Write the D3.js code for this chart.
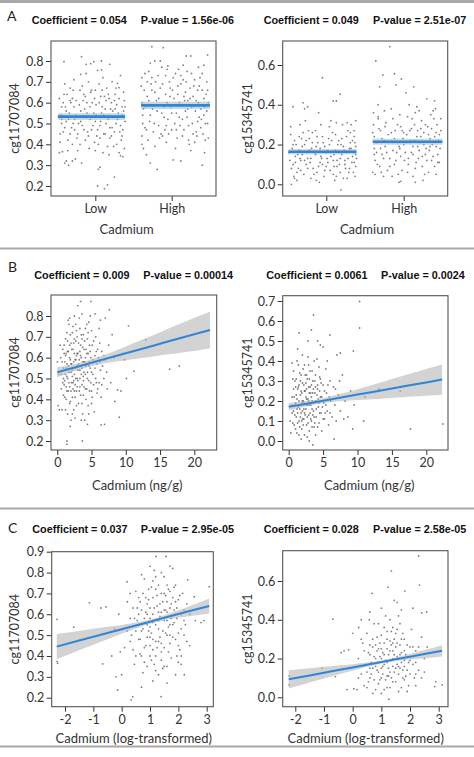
<!DOCTYPE html>
<html><head><meta charset="utf-8">
<script src="https://cdn.jsdelivr.net/npm/d3@7"></script>
<style>body{margin:0;background:#fff}svg{display:block}</style>
</head><body>
<svg id="c" width="474" height="757"></svg>
<script>
// ---------------- DATA ----------------
const categories = ["Low", "High"];
const panelLetters = ["A", "B", "C"];
const coefLabels = ["Coefficient = 0.054", "Coefficient = 0.049", "Coefficient = 0.009", "Coefficient = 0.0061", "Coefficient = 0.037", "Coefficient = 0.028"];
const pvalLabels = ["P-value = 1.56e-06", "P-value = 2.51e-07", "P-value = 0.00014", "P-value = 0.0024", "P-value = 2.95e-05", "P-value = 2.58e-05"];
const yLabels = ["cg11707084", "cg15345741", "cg11707084", "cg15345741", "cg11707084", "cg15345741"];
const xLabels = ["Cadmium", "Cadmium", "Cadmium (ng/g)", "Cadmium (ng/g)", "Cadmium (log-transformed)", "Cadmium (log-transformed)"];
const yTicksA1 = [0.2, 0.3, 0.4, 0.5, 0.6, 0.7, 0.8];
const yTicksA2 = [0.0, 0.2, 0.4, 0.6];
const yTicksB1 = [0.2, 0.3, 0.4, 0.5, 0.6, 0.7, 0.8];
const yTicksB2 = [0.0, 0.1, 0.2, 0.3, 0.4, 0.5, 0.6, 0.7];
const yTicksC1 = [0.2, 0.3, 0.4, 0.5, 0.6, 0.7, 0.8, 0.9];
const yTicksC2 = [0.0, 0.2, 0.4, 0.6];
const xTicksB = [0, 5, 10, 15, 20];
const xTicksC = [-2, -1, 0, 1, 2, 3];

// group means (Low, High), CI half-width, line extent in jitter units
const meanA1 = [0.533, 0.587];
const ciA1 = [0.016, 0.018];
const meanA2 = [0.164, 0.214];
const ciA2 = [0.013, 0.015];
const lineFrom = [-0.49, -0.40];
const lineTo = [0.39, 0.50];

// jittered points: [jitter offset from category, value]
const a1Low = [[-0.41,0.797],[-0.18,0.821],[-0.12,0.784],[-0.06,0.787],[-0.02,0.797],[0.08,0.80],[0.19,0.784],[0.03,0.755],[0.08,0.757],[-0.19,0.736],[0.29,0.693],[0.31,0.672],[0.25,0.243],[0.03,0.20],[0.12,0.187],[0.16,0.205],[-0.43,0.365],[-0.47,0.36],[-0.40,0.31],[-0.38,0.32],[-0.35,0.30],[-0.30,0.32],[0.06,0.29],[0.04,0.28],[0.36,0.34],[0.33,0.345],[-0.26,0.33],[-0.18,0.31],
[-0.42,0.60],[-0.38,0.56],[-0.35,0.52],[-0.40,0.48],[-0.33,0.45],[-0.36,0.42],[-0.41,0.64],[-0.30,0.62],[-0.28,0.58],[-0.25,0.54],[-0.22,0.50],[-0.27,0.47],[-0.24,0.43],[-0.30,0.40],[-0.20,0.66],[-0.16,0.61],[-0.14,0.57],[-0.12,0.53],[-0.17,0.49],[-0.10,0.46],[-0.13,0.42],[-0.08,0.38],[-0.06,0.65],[-0.04,0.60],[-0.02,0.55],[0.00,0.51],[-0.05,0.47],[0.02,0.44],[0.04,0.40],[0.05,0.69],[0.07,0.63],[0.09,0.58],[0.11,0.54],[0.06,0.49],[0.13,0.45],[0.10,0.36],[0.15,0.67],[0.18,0.62],[0.20,0.57],[0.17,0.52],[0.22,0.48],[0.19,0.43],[0.24,0.39],[0.26,0.64],[0.28,0.59],[0.30,0.55],[0.27,0.50],[0.32,0.46],[0.34,0.42],[0.38,0.61],[0.37,0.56],[0.39,0.51],[0.36,0.47],[0.35,0.44],[0.38,0.38],[-0.33,0.67],[-0.09,0.70],[0.00,0.66],[0.12,0.63],[-0.19,0.56],[0.23,0.53],[-0.38,0.51],[0.35,0.58],[-0.01,0.41],[0.16,0.39],[-0.23,0.37],[0.31,0.36],[-0.11,0.60],[0.08,0.55],[-0.29,0.50],[-0.45,0.54],[-0.46,0.45],[-0.44,0.58],[-0.32,0.60],[0.14,0.50],[0.25,0.61],[-0.07,0.52],[0.01,0.59],[0.21,0.44],[-0.15,0.64],
[-0.47,0.62],[-0.44,0.50],[-0.42,0.46],[-0.39,0.58],[-0.37,0.64],[-0.34,0.55],[-0.31,0.48],[-0.29,0.66],[-0.27,0.52],[-0.25,0.61],[-0.23,0.45],[-0.21,0.59],[-0.19,0.51],[-0.17,0.68],[-0.15,0.47],[-0.13,0.63],[-0.11,0.55],[-0.09,0.44],[-0.07,0.58],[-0.05,0.66],[-0.03,0.49],[-0.01,0.62],[0.01,0.54],[0.03,0.47],[0.05,0.60],[0.07,0.51],[0.09,0.66],[0.11,0.45],[0.13,0.57],[0.15,0.53],[0.17,0.64],[0.19,0.48],[0.21,0.60],[0.23,0.56],[0.25,0.46],[0.27,0.67],[0.29,0.52],[0.31,0.62],[0.33,0.49],[0.35,0.54],[0.37,0.65],[0.39,0.58],[-0.46,0.41],[-0.36,0.37],[-0.20,0.40],[0.00,0.37],[0.18,0.35],[0.28,0.40],[-0.28,0.71],[0.10,0.72],[-0.40,0.69],[0.22,0.70],[-0.12,0.74],[0.33,0.73],[-0.44,0.52],[0.06,0.43],[-0.16,0.53],[0.26,0.57],[-0.33,0.61],[0.14,0.61]];
const a1High = [[-0.26,0.869],[-0.11,0.864],[-0.28,0.79],[-0.22,0.80],[-0.15,0.80],[0.19,0.824],[0.25,0.824],[0.47,0.829],[0.42,0.78],[-0.05,0.776],[-0.28,0.31],[-0.19,0.28],[0.02,0.325],[0.12,0.32],[0.40,0.30],[-0.37,0.38],[-0.33,0.35],
[-0.39,0.72],[-0.36,0.66],[-0.39,0.60],[-0.38,0.54],[-0.35,0.48],[-0.39,0.44],[-0.30,0.75],[-0.27,0.69],[-0.32,0.63],[-0.25,0.57],[-0.29,0.51],[-0.24,0.46],[-0.31,0.42],[-0.18,0.73],[-0.15,0.67],[-0.20,0.61],[-0.13,0.55],[-0.17,0.49],[-0.12,0.44],[-0.06,0.76],[-0.03,0.70],[-0.08,0.64],[-0.01,0.58],[-0.05,0.52],[0.00,0.47],[-0.07,0.41],[0.05,0.74],[0.08,0.68],[0.03,0.62],[0.10,0.60],[0.06,0.55],[0.11,0.49],[0.07,0.43],[0.15,0.71],[0.18,0.65],[0.13,0.59],[0.20,0.53],[0.16,0.47],[0.22,0.42],[0.26,0.74],[0.29,0.68],[0.24,0.62],[0.31,0.56],[0.27,0.50],[0.33,0.44],[0.37,0.72],[0.40,0.66],[0.35,0.60],[0.42,0.54],[0.38,0.48],[0.44,0.42],[0.45,0.64],[0.43,0.58],[0.36,0.53],[0.32,0.46],[-0.34,0.58],[-0.22,0.65],[0.01,0.66],[0.19,0.70],[-0.10,0.58],[0.14,0.52],[0.28,0.63],[-0.38,0.50],[0.41,0.45],[0.09,0.76],[-0.16,0.43],[0.23,0.40],[0.46,0.70],[0.04,0.50],[0.48,0.60],[0.47,0.50],[-0.02,0.63],[0.21,0.57],[-0.26,0.72],[0.34,0.66],[0.12,0.73],[-0.09,0.47],[0.30,0.41],[0.17,0.61],
[-0.40,0.68],[-0.37,0.57],[-0.35,0.74],[-0.33,0.47],[-0.30,0.61],[-0.28,0.54],[-0.26,0.66],[-0.23,0.50],[-0.21,0.70],[-0.19,0.56],[-0.17,0.62],[-0.14,0.45],[-0.12,0.69],[-0.10,0.53],[-0.08,0.73],[-0.06,0.60],[-0.04,0.45],[-0.02,0.67],[0.00,0.55],[0.02,0.72],[0.04,0.59],[0.06,0.47],[0.08,0.64],[0.10,0.53],[0.12,0.69],[0.14,0.44],[0.16,0.63],[0.18,0.56],[0.20,0.75],[0.22,0.49],[0.24,0.67],[0.26,0.58],[0.28,0.45],[0.30,0.71],[0.32,0.61],[0.34,0.51],[0.36,0.68],[0.38,0.57],[0.40,0.74],[0.42,0.62],[0.44,0.50],[0.46,0.56],[0.48,0.43],[-0.39,0.40],[-0.22,0.39],[0.05,0.38],[0.25,0.37],[0.43,0.36],[-0.13,0.77],[0.15,0.78],[0.35,0.77],[-0.32,0.70],[0.47,0.66],[-0.07,0.49],[0.21,0.61],[0.39,0.52]];
const a2Low = [[-0.05,0.536],[0.18,0.453],[-0.43,0.39],[-0.30,0.41],[-0.24,0.39],[-0.28,0.38],[0.09,0.419],[0.13,0.419],[-0.10,0.36],[0.21,0.30],[0.32,0.30],[0.19,-0.028],[-0.45,0.00],[-0.42,0.04],[-0.38,0.02],
[-0.44,0.18],[-0.40,0.14],[-0.43,0.10],[-0.38,0.06],[-0.41,0.22],[-0.35,0.17],[-0.33,0.12],[-0.36,0.08],[-0.30,0.26],[-0.28,0.20],[-0.31,0.15],[-0.26,0.10],[-0.29,0.05],[-0.22,0.23],[-0.19,0.18],[-0.24,0.13],[-0.17,0.08],[-0.20,0.03],[-0.14,0.27],[-0.11,0.21],[-0.15,0.16],[-0.08,0.11],[-0.12,0.06],[-0.05,0.24],[-0.02,0.19],[-0.07,0.14],[0.00,0.09],[-0.03,0.04],[0.04,0.29],[0.07,0.22],[0.02,0.17],[0.09,0.12],[0.05,0.07],[0.12,0.25],[0.15,0.20],[0.10,0.15],[0.17,0.10],[0.13,0.04],[0.20,0.23],[0.23,0.17],[0.18,0.13],[0.25,0.08],[0.22,0.03],[0.28,0.27],[0.31,0.21],[0.26,0.16],[0.33,0.11],[0.29,0.06],[0.36,0.24],[0.38,0.19],[0.34,0.14],[0.38,0.09],[0.37,0.04],[0.37,0.21],[0.39,0.13],[0.36,0.27],[-0.34,0.30],[0.06,0.32],[-0.18,0.26],[0.27,0.31],[0.38,0.32],[-0.09,0.01],[0.11,0.02],[-0.25,0.16],[0.01,0.13],[0.16,0.16],[0.35,0.16],[-0.39,0.20],[0.24,0.12],[-0.47,0.12],[-0.46,0.25],[-0.13,0.19],[0.03,0.23],[-0.21,0.11],[0.14,0.09],[-0.32,0.23],[0.30,0.18],
[-0.48,0.16],[-0.45,0.08],[-0.43,0.20],[-0.40,0.11],[-0.37,0.15],[-0.35,0.24],[-0.33,0.07],[-0.31,0.19],[-0.28,0.12],[-0.26,0.22],[-0.24,0.08],[-0.22,0.17],[-0.20,0.13],[-0.18,0.21],[-0.16,0.05],[-0.14,0.15],[-0.12,0.24],[-0.10,0.09],[-0.08,0.18],[-0.06,0.13],[-0.04,0.21],[-0.02,0.07],[0.00,0.16],[0.02,0.11],[0.04,0.20],[0.06,0.14],[0.08,0.26],[0.10,0.09],[0.12,0.17],[0.14,0.12],[0.16,0.22],[0.18,0.06],[0.20,0.15],[0.22,0.19],[0.24,0.10],[0.26,0.24],[0.28,0.13],[0.30,0.08],[0.32,0.18],[0.34,0.22],[0.36,0.11],[0.38,0.15],[-0.46,0.29],[-0.27,0.32],[-0.07,0.30],[0.13,0.31],[0.31,0.26],[-0.41,0.03],[-0.13,0.02],[0.09,0.05],[0.27,0.03],[-0.34,0.13],[-0.05,0.10],[0.19,0.20],[-0.23,0.27],[0.35,0.06]];
const a2High = [[-0.18,0.692],[-0.36,0.62],[-0.27,0.55],[-0.12,0.556],[-0.03,0.53],[-0.31,0.49],[-0.10,0.50],[0.03,0.46],[0.13,0.49],[0.30,0.43],[0.17,0.39],[0.41,0.38],[-0.33,0.40],[-0.06,0.01],[-0.04,0.015],[0.15,0.01],[0.40,0.42],
[-0.39,0.30],[-0.38,0.24],[-0.38,0.18],[-0.37,0.12],[-0.40,0.06],[-0.33,0.34],[-0.30,0.27],[-0.34,0.21],[-0.28,0.15],[-0.31,0.09],[-0.26,0.04],[-0.23,0.31],[-0.20,0.25],[-0.24,0.19],[-0.18,0.13],[-0.21,0.07],[-0.14,0.33],[-0.11,0.27],[-0.15,0.21],[-0.09,0.16],[-0.12,0.10],[-0.07,0.05],[-0.04,0.29],[-0.01,0.23],[-0.05,0.18],[0.01,0.12],[-0.02,0.07],[0.05,0.34],[0.08,0.27],[0.03,0.21],[0.10,0.16],[0.06,0.10],[0.12,0.04],[0.14,0.30],[0.17,0.24],[0.12,0.19],[0.19,0.13],[0.15,0.08],[0.23,0.32],[0.26,0.26],[0.21,0.21],[0.28,0.15],[0.24,0.09],[0.31,0.29],[0.34,0.23],[0.29,0.18],[0.36,0.12],[0.32,0.06],[0.39,0.33],[0.42,0.26],[0.37,0.20],[0.44,0.15],[0.40,0.09],[0.45,0.22],[0.43,0.30],[-0.39,0.36],[0.20,0.37],[0.35,0.35],[-0.16,0.38],[0.07,0.40],[0.27,0.05],[0.42,0.05],[-0.29,0.06],[0.00,0.26],[0.18,0.19],[-0.25,0.22],[0.33,0.17],[0.09,0.22],[0.47,0.18],[0.48,0.27],[0.46,0.11],[-0.08,0.21],[0.22,0.28],[-0.35,0.16],[0.11,0.33],
[-0.40,0.26],[-0.38,0.15],[-0.36,0.21],[-0.34,0.10],[-0.32,0.28],[-0.30,0.18],[-0.28,0.23],[-0.26,0.13],[-0.24,0.29],[-0.22,0.16],[-0.20,0.21],[-0.18,0.09],[-0.16,0.26],[-0.14,0.17],[-0.12,0.23],[-0.10,0.12],[-0.08,0.30],[-0.06,0.19],[-0.04,0.14],[-0.02,0.27],[0.00,0.20],[0.02,0.16],[0.04,0.25],[0.06,0.13],[0.08,0.21],[0.10,0.28],[0.12,0.15],[0.14,0.22],[0.16,0.11],[0.18,0.27],[0.20,0.17],[0.22,0.24],[0.24,0.14],[0.26,0.20],[0.28,0.30],[0.30,0.12],[0.32,0.25],[0.34,0.19],[0.36,0.28],[0.38,0.14],[0.40,0.24],[0.42,0.19],[0.44,0.11],[0.46,0.25],[0.48,0.33],[-0.37,0.05],[-0.15,0.04],[0.05,0.06],[0.25,0.02],[-0.33,0.33],[-0.05,0.35],[0.15,0.36],[0.38,0.37],[-0.25,0.37]];

// scatter points [x, y]
const b1Pts = [[16.4,0.545],[17.8,0.56],[10.4,0.753],[12.9,0.686],[9.05,0.314],[11.2,0.535],[4.9,0.87],[3.4,0.87],[1.4,0.20],[3.65,0.20],[1.4,0.185],[0.1,0.37],[0.3,0.35],[6.4,0.277],[8.8,0.445],[9.3,0.44],[10.1,0.50],[9.6,0.62],[8.0,0.71],[7.6,0.83],[7.0,0.79],[8.3,0.60],[9.8,0.59],[6.9,0.28],[8.4,0.39],[0.0,0.58],[0.2,0.52],[0.5,0.60],[2.5,0.80],[1.8,0.79],[3.0,0.85],[5.5,0.81],[6.3,0.78],
[0.8,0.64],[0.9,0.55],[1.0,0.47],[1.1,0.41],[0.7,0.35],[1.2,0.69],[1.3,0.62],[1.4,0.57],[1.5,0.50],[1.6,0.44],[1.5,0.33],[1.7,0.76],[1.8,0.66],[1.9,0.59],[2.0,0.53],[2.1,0.48],[1.9,0.39],[2.0,0.30],[2.2,0.72],[2.3,0.64],[2.4,0.58],[2.5,0.52],[2.3,0.45],[2.6,0.41],[2.4,0.35],[2.7,0.68],[2.8,0.61],[2.9,0.56],[3.0,0.49],[2.8,0.44],[3.1,0.38],[3.2,0.79],[3.3,0.74],[3.4,0.66],[3.5,0.60],[3.3,0.54],[3.6,0.47],[3.4,0.42],[3.7,0.33],[3.8,0.71],[3.9,0.64],[4.0,0.58],[4.1,0.52],[3.9,0.46],[4.2,0.40],[4.0,0.30],[4.3,0.76],[4.4,0.69],[4.5,0.62],[4.6,0.56],[4.4,0.50],[4.7,0.44],[4.5,0.37],[4.8,0.80],[5.0,0.73],[5.1,0.66],[5.2,0.59],[5.0,0.53],[5.3,0.47],[5.1,0.41],[5.4,0.34],[5.6,0.70],[5.7,0.63],[5.8,0.57],[5.6,0.50],[5.9,0.45],[6.1,0.74],[6.2,0.67],[6.0,0.60],[6.3,0.54],[6.1,0.48],[6.5,0.63],[6.6,0.56],[6.8,0.50],[7.0,0.59],[7.2,0.53],[7.5,0.66],[7.8,0.48],
[1.2,0.52],[1.6,0.63],[2.1,0.57],[2.6,0.47],[3.0,0.62],[3.5,0.52],[2.2,0.41],[1.8,0.46],[2.7,0.55],[3.2,0.44],[3.7,0.58],[4.2,0.64],[2.9,0.70],[2.0,0.67],[1.3,0.46],[3.6,0.69],[4.7,0.58],[2.4,0.49],[3.1,0.57],[1.7,0.53],[2.5,0.62],[3.9,0.53],[4.9,0.48],[1.1,0.58],[0.6,0.45],[1.4,0.72],[2.8,0.37],[3.3,0.50],[4.3,0.45],[5.5,0.55],[1.9,0.27],[2.6,0.31],[4.6,0.33],[0.4,0.66],[3.6,0.38],[5.8,0.43],[2.3,0.75],[6.4,0.41],[1.0,0.62],[1.5,0.68],[2.2,0.51],[2.7,0.59],[3.4,0.56],[4.1,0.60],[1.3,0.40],[2.9,0.50],[3.8,0.49],[4.8,0.63],[0.9,0.50],[2.0,0.44],
[0.6,0.52],[0.7,0.58],[0.8,0.48],[1.0,0.66],[1.1,0.49],[1.2,0.61],[1.3,0.55],[1.4,0.44],[1.5,0.63],[1.6,0.56],[1.7,0.48],[1.8,0.60],[1.9,0.71],[2.0,0.57],[2.1,0.64],[2.2,0.54],[2.3,0.48],[2.4,0.67],[2.5,0.44],[2.6,0.59],[2.7,0.50],[2.8,0.73],[2.9,0.62],[3.0,0.54],[3.1,0.67],[3.2,0.59],[3.3,0.46],[3.4,0.61],[3.5,0.71],[3.6,0.55],[3.7,0.65],[3.8,0.51],[3.9,0.58],[4.0,0.68],[4.1,0.45],[4.2,0.56],[4.3,0.62],[4.4,0.53],[4.5,0.72],[4.6,0.49],[4.7,0.66],[4.8,0.55],[4.9,0.60],[5.0,0.44],[5.2,0.52],[5.3,0.68],[5.5,0.61],[5.7,0.48],[5.9,0.64],[6.2,0.58],[6.5,0.47],[6.8,0.61],[7.3,0.45],[1.2,0.35],[2.2,0.33],[3.5,0.30],[4.4,0.28],[5.0,0.38],[1.6,0.78],[2.7,0.76],[3.6,0.81],[4.6,0.77],[0.9,0.42],[1.8,0.38],[2.5,0.69],[3.3,0.63],[4.1,0.74],[1.4,0.51],[2.9,0.46],[3.8,0.42]];
const b2Pts = [[10.3,0.698],[10.3,0.565],[3.6,0.63],[9.4,0.45],[6.0,0.53],[3.3,0.555],[17.7,0.06],[22.4,0.085],[16.2,0.25],[10.9,0.10],[9.3,0.06],[7.0,0.43],[7.5,0.44],[11.1,0.22],[13.1,0.26],[3.5,-0.02],[3.0,0.0],[1.5,0.54],[2.8,0.50],[4.6,0.48],[5.0,0.47],[4.2,0.50],[6.6,0.01],[0.3,0.04],[0.2,0.10],[0.5,0.39],[1.3,0.46],
[0.5,0.22],[0.7,0.15],[0.8,0.08],[0.9,0.30],[1.0,0.19],[1.1,0.12],[1.2,0.04],[1.3,0.26],[1.4,0.17],[1.5,0.10],[1.6,0.34],[1.7,0.23],[1.8,0.14],[1.9,0.06],[2.0,0.29],[2.1,0.20],[2.2,0.11],[2.3,0.38],[2.4,0.25],[2.5,0.16],[2.6,0.08],[2.7,0.31],[2.8,0.21],[2.9,0.13],[3.0,0.05],[3.1,0.27],[3.2,0.18],[3.3,0.10],[3.4,0.35],[3.5,0.24],[3.6,0.15],[3.7,0.07],[3.8,0.30],[3.9,0.20],[4.0,0.12],[4.1,0.41],[4.2,0.26],[4.3,0.17],[4.4,0.09],[4.5,0.32],[4.6,0.22],[4.7,0.14],[4.8,0.05],[5.0,0.28],[5.1,0.19],[5.2,0.11],[5.4,0.36],[5.5,0.24],[5.6,0.15],[5.8,0.08],[6.0,0.30],[6.1,0.20],[6.3,0.12],[6.5,0.27],[6.7,0.18],[6.9,0.10],[7.2,0.23],[7.5,0.15],[7.8,0.33],[8.2,0.20],[8.6,0.12],[9.0,0.25],[9.5,0.18],
[1.5,0.20],[2.0,0.15],[2.5,0.22],[3.0,0.18],[2.2,0.28],[1.8,0.25],[2.7,0.12],[3.3,0.22],[1.2,0.16],[3.8,0.24],[2.4,0.33],[1.6,0.07],[2.9,0.27],[3.5,0.30],[4.3,0.21],[1.0,0.27],[2.1,0.36],[3.1,0.14],[1.9,0.19],[2.6,0.18],[3.7,0.12],[4.9,0.17],[0.6,0.31],[1.4,0.38],[2.8,0.42],[3.9,0.33],[4.5,0.25],[5.3,0.14],[0.9,0.13],[2.3,0.03],[5.9,0.22],[1.7,0.30],[1.1,0.23],[2.0,0.11],[2.6,0.26],[3.4,0.16],[4.0,0.20],[1.3,0.09],[2.2,0.19],[3.0,0.31],[0.7,0.26],[4.7,0.29],
[0.5,0.14],[0.6,0.09],[0.8,0.22],[0.9,0.18],[1.0,0.06],[1.1,0.31],[1.2,0.21],[1.3,0.14],[1.4,0.27],[1.5,0.03],[1.6,0.16],[1.7,0.12],[1.8,0.33],[1.9,0.24],[2.0,0.20],[2.1,0.08],[2.2,0.16],[2.3,0.25],[2.4,0.13],[2.5,0.29],[2.6,0.21],[2.7,0.18],[2.8,0.09],[2.9,0.20],[3.0,0.24],[3.1,0.35],[3.2,0.11],[3.3,0.28],[3.4,0.20],[3.5,0.13],[3.6,0.26],[3.7,0.19],[3.8,0.09],[3.9,0.27],[4.0,0.16],[4.1,0.23],[4.2,0.07],[4.4,0.19],[4.5,0.14],[4.6,0.31],[4.8,0.22],[5.0,0.11],[5.2,0.25],[5.4,0.18],[5.7,0.28],[6.0,0.14],[6.4,0.21],[6.8,0.26],[7.4,0.30],[8.0,0.11],[1.2,0.40],[2.0,0.43],[2.9,0.38],[3.7,0.40],[4.4,0.37],[5.6,0.40],[1.8,0.01],[2.7,0.02],[3.9,0.03],[0.7,0.35],[1.5,0.28],[2.3,0.14],[3.2,0.24],[4.2,0.28],[0.4,0.18],[2.6,0.33],[1.9,0.10],[3.4,0.07]];
const c1Pts = [[-2.28,0.576],[-2.28,0.373],[-2.26,0.365],[-1.69,0.538],[-1.14,0.655],[-0.73,0.63],[-0.55,0.635],[-0.67,0.362],[-0.35,0.40],[3.09,0.732],[2.9,0.57],[2.8,0.56],[1.21,0.877],[1.56,0.877],[0.39,0.205],[1.39,0.205],[0.33,0.19],[2.33,0.765],[2.56,0.684],[0.19,0.756],[-0.14,0.237],[2.21,0.31],[-0.2,0.30],[0.0,0.31],[-0.1,0.60],[-0.25,0.53],[0.1,0.44],[-0.05,0.42],[2.6,0.57],[2.4,0.45],
[0.2,0.66],[0.3,0.58],[0.35,0.50],[0.4,0.43],[0.45,0.36],[0.5,0.71],[0.55,0.63],[0.6,0.55],[0.65,0.48],[0.7,0.40],[0.75,0.32],[0.8,0.77],[0.85,0.68],[0.9,0.60],[0.95,0.52],[1.0,0.45],[1.05,0.38],[1.1,0.28],[1.15,0.81],[1.2,0.72],[1.25,0.64],[1.3,0.57],[1.35,0.49],[1.4,0.42],[1.45,0.34],[1.5,0.78],[1.55,0.69],[1.6,0.61],[1.65,0.54],[1.7,0.46],[1.75,0.39],[1.8,0.82],[1.85,0.73],[1.9,0.66],[1.95,0.58],[2.0,0.51],[2.05,0.43],[2.1,0.36],[2.15,0.70],[2.2,0.62],[2.25,0.55],[2.3,0.47],[2.1,0.40],[0.9,0.35],[1.3,0.31],[1.6,0.27],[0.7,0.25],[1.0,0.83],
[0.8,0.58],[1.0,0.63],[1.2,0.55],[1.4,0.61],[1.6,0.50],[1.1,0.68],[1.3,0.47],[1.5,0.57],[1.7,0.63],[0.9,0.49],[1.4,0.70],[1.8,0.55],[1.2,0.40],[1.0,0.54],[1.6,0.66],[0.7,0.62],[1.9,0.48],[1.5,0.44],[1.1,0.60],[1.3,0.74],[0.6,0.68],[2.0,0.67],[1.7,0.71],[0.5,0.52],[1.45,0.52],[1.25,0.44],[0.95,0.72],[1.75,0.58],[1.05,0.51],[1.55,0.62],[0.85,0.45],[1.35,0.65],[1.65,0.42],[2.1,0.60],[0.45,0.58],[1.15,0.36],[0.75,0.53],[1.5,0.35],[1.85,0.62],[1.2,0.78],[0.65,0.41],[1.95,0.40],[1.1,0.48],[1.6,0.74],[0.3,0.47],[2.2,0.50],
[0.55,0.57],[0.6,0.48],[0.65,0.66],[0.7,0.52],[0.75,0.70],[0.8,0.44],[0.85,0.61],[0.9,0.55],[0.95,0.67],[1.0,0.49],[1.05,0.73],[1.1,0.56],[1.15,0.63],[1.2,0.47],[1.25,0.69],[1.3,0.53],[1.35,0.59],[1.4,0.46],[1.45,0.66],[1.5,0.62],[1.55,0.51],[1.6,0.57],[1.65,0.72],[1.7,0.55],[1.75,0.65],[1.8,0.49],[1.85,0.56],[1.9,0.74],[1.95,0.63],[2.0,0.45],[2.05,0.69],[2.1,0.53],[2.2,0.57],[2.3,0.65],[0.4,0.63],[0.5,0.40],[0.8,0.37],[1.0,0.40],[1.2,0.33],[1.4,0.38],[1.6,0.35],[1.9,0.31],[2.0,0.37],[0.7,0.79],[1.4,0.80],[1.7,0.83],[1.1,0.76],[0.3,0.70],[2.4,0.60],[0.2,0.52],[0.9,0.65],[1.3,0.61],[1.5,0.70],[1.1,0.43],[1.7,0.50],[0.6,0.60],[1.0,0.58],[1.8,0.68]];
const c2Pts = [[2.30,0.729],[1.35,0.652],[2.33,0.579],[1.23,0.568],[1.82,0.548],[0.68,0.536],[-0.69,0.403],[-2.21,0.11],[-2.21,0.064],[-1.07,0.15],[2.86,0.055],[3.12,0.064],[1.26,-0.01],[0.04,0.044],[0.15,0.04],[-0.2,0.04],[-0.6,0.107],[0.21,0.36],[0.58,0.40],[2.58,0.44],[2.41,0.435],[-0.14,0.245],[-0.3,0.24],[2.6,0.26],[2.1,0.46],[1.45,0.50],[1.55,0.49],[-0.4,0.23],[0.0,0.33],[2.9,0.08],
[0.2,0.20],[0.3,0.12],[0.35,0.28],[0.4,0.06],[0.45,0.17],[0.5,0.33],[0.55,0.23],[0.6,0.10],[0.65,0.18],[0.7,0.02],[0.75,0.38],[0.8,0.27],[0.85,0.14],[0.9,0.07],[0.95,0.21],[1.0,0.32],[1.05,0.16],[1.1,0.04],[1.15,0.42],[1.2,0.25],[1.25,0.11],[1.3,0.19],[1.35,0.34],[1.4,0.08],[1.45,0.22],[1.5,0.15],[1.55,0.28],[1.6,0.03],[1.65,0.38],[1.7,0.18],[1.75,0.10],[1.8,0.30],[1.85,0.22],[1.9,0.14],[1.95,0.06],[2.0,0.26],[2.05,0.35],[2.1,0.17],[2.15,0.10],[2.2,0.24],[2.3,0.14],[2.4,0.31],[2.5,0.20],[0.3,0.40],[0.6,0.44],[1.0,0.46],[1.7,0.45],
[0.8,0.16],[1.0,0.20],[1.2,0.18],[1.4,0.24],[1.6,0.20],[1.1,0.28],[1.3,0.13],[1.5,0.26],[1.7,0.23],[0.9,0.25],[1.45,0.30],[1.8,0.16],[1.25,0.22],[1.05,0.12],[1.65,0.27],[0.7,0.15],[1.9,0.21],[1.55,0.17],[1.15,0.19],[1.35,0.27],[0.6,0.27],[2.0,0.19],[1.75,0.33],[0.5,0.13],[1.4,0.16],[1.2,0.34],[0.95,0.09],[1.6,0.12],[1.1,0.22],[1.3,0.29],[0.85,0.31],[1.5,0.08],[2.1,0.26],[0.75,0.21],[1.2,0.05],[1.8,0.09],[0.9,0.18],[1.4,0.36],[2.2,0.12],[0.55,0.08],[1.65,0.15],[1.0,0.10],
[0.55,0.17],[0.6,0.22],[0.65,0.12],[0.7,0.30],[0.75,0.09],[0.8,0.20],[0.85,0.24],[0.9,0.13],[0.95,0.28],[1.0,0.15],[1.05,0.23],[1.1,0.17],[1.15,0.09],[1.2,0.30],[1.25,0.15],[1.3,0.24],[1.35,0.10],[1.4,0.20],[1.45,0.13],[1.5,0.33],[1.55,0.21],[1.6,0.16],[1.65,0.22],[1.7,0.30],[1.75,0.14],[1.8,0.24],[1.85,0.11],[1.9,0.27],[1.95,0.18],[2.0,0.12],[2.1,0.21],[2.2,0.18],[2.3,0.26],[2.4,0.10],[0.4,0.24],[0.5,0.05],[0.8,0.04],[1.0,0.02],[1.3,0.05],[1.7,0.05],[1.9,0.03],[2.2,0.06],[0.9,0.38],[1.3,0.40],[1.6,0.42],[1.1,0.36],[0.3,0.30],[2.5,0.13],[0.2,0.10],[0.7,0.26],[1.4,0.28],[1.55,0.35],[1.2,0.11],[1.8,0.19],[1.0,0.25],[0.6,0.15]];

// fitted lines with confidence bands (read at several x positions)
const bandXB1 = [0, 2, 4, 6, 8, 10, 12, 14, 16, 18, 20, 22.3];
const fitB1 = [0.530, 0.548, 0.566, 0.585, 0.603, 0.621, 0.639, 0.657, 0.676, 0.694, 0.712, 0.733];
const loB1 = [0.506, 0.530, 0.550, 0.567, 0.579, 0.588, 0.597, 0.606, 0.615, 0.624, 0.632, 0.645];
const hiB1 = [0.554, 0.566, 0.582, 0.603, 0.627, 0.654, 0.681, 0.708, 0.737, 0.764, 0.792, 0.821];
const bandXB2 = [0, 2, 4, 6, 8, 10, 12, 14, 16, 18, 20, 22.3];
const fitB2 = [0.171, 0.183, 0.195, 0.208, 0.220, 0.232, 0.244, 0.256, 0.269, 0.281, 0.293, 0.307];
const loB2 = [0.152, 0.169, 0.184, 0.194, 0.200, 0.205, 0.209, 0.213, 0.218, 0.222, 0.226, 0.231];
const hiB2 = [0.190, 0.197, 0.206, 0.222, 0.240, 0.259, 0.279, 0.299, 0.320, 0.340, 0.360, 0.383];
const bandXC1 = [-2.29, -1.5, -1, -0.5, 0, 0.5, 1, 1.5, 2, 2.5, 3.09];
const fitC1 = [0.445, 0.474, 0.492, 0.510, 0.528, 0.546, 0.564, 0.583, 0.601, 0.619, 0.640];
const loC1 = [0.385, 0.428, 0.454, 0.480, 0.507, 0.532, 0.554, 0.571, 0.583, 0.593, 0.604];
const hiC1 = [0.505, 0.520, 0.530, 0.540, 0.549, 0.560, 0.574, 0.595, 0.619, 0.645, 0.676];
const bandXC2 = [-2.23, -1.5, -1, -0.5, 0, 0.5, 1, 1.5, 2, 2.5, 3.12];
const fitC2 = [0.093, 0.113, 0.127, 0.141, 0.154, 0.168, 0.182, 0.196, 0.209, 0.223, 0.240];
const loC2 = [0.046, 0.076, 0.097, 0.118, 0.137, 0.157, 0.175, 0.187, 0.195, 0.202, 0.211];
const hiC2 = [0.140, 0.150, 0.157, 0.164, 0.171, 0.179, 0.189, 0.205, 0.223, 0.244, 0.269];

// ---------------- DRAWING ----------------
const svg = d3.select("#c");
const BLUE = "#2f86d6";
const PT = "#555";
const AXC = "#333";
const TXT = "#333";
const tickFont = "Lato, 'Noto Sans', sans-serif";

svg.append("rect").attr("x", 0).attr("y", 0).attr("width", 474).attr("height", 3).attr("fill", "#a9a9a9");
[248.5, 508.5, 746.5].forEach(y => {
  svg.append("line").attr("x1", 0).attr("x2", 474).attr("y1", y).attr("y2", y)
    .attr("stroke", "#a9a9a9").attr("stroke-width", 2);
});
const letterPos = [[7, 20.5], [8, 272], [8, 533]];
panelLetters.forEach((l, i) => {
  svg.append("text").attr("x", letterPos[i][0]).attr("y", letterPos[i][1]).text(l)
    .attr("font-family", tickFont).attr("font-size", 14).attr("fill", "#222");
});

const plots = [
  {box:[51,216,41,196], xs:[[1,2],[95.3,171.7]], ys:[[0.2,0.8],[186,61]], yt:yTicksA1, type:"cat", t:[31.7,140.7,24], yl:14.5, xl:[126.7,234]},
  {box:[282.7,447.7,41,196], xs:[[1,2],[326.3,403.7]], ys:[[0,0.6],[184.3,65]], yt:yTicksA2, type:"cat", t:[263.7,373,24], yl:247.5, xl:[367,234]},
  {box:[51,216.7,295,450], xs:[[0,20],[57.3,194.3]], ys:[[0.2,0.8],[441,316]], yt:yTicksB1, xt:xTicksB, pts:b1Pts, band:[bandXB1,fitB1,loB1,hiB1], t:[34.3,143.3,279], yl:14, xl:[137.2,490]},
  {box:[282.7,448,295.7,450], xs:[[0,20],[288.7,426.3]], ys:[[0,0.7],[441,301]], yt:yTicksB2, xt:xTicksB, pts:b2Pts, band:[bandXB2,fitB2,loB2,hiB2], t:[266.3,381,279], yl:247.5, xl:[369.2,490]},
  {box:[51.7,213.3,551.7,706.7], xs:[[-2,3],[65,206.7]], ys:[[0.2,0.9],[697.7,551.7]], yt:yTicksC1, xt:xTicksC, pts:c1Pts, band:[bandXC1,fitC1,loC1,hiC1], t:[32.3,140.7,533], yl:14.5, xl:[133.8,743]},
  {box:[282.7,448,550.7,706.7], xs:[[-2,3],[295.3,438.7]], ys:[[0,0.6],[697.3,581]], yt:yTicksC2, xt:xTicksC, pts:c2Pts, band:[bandXC2,fitC2,loC2,hiC2], t:[263.7,373,533], yl:247.5, xl:[365.7,743]}
];
const catData = [
  {low:a1Low, high:a1High, mean:meanA1, ci:ciA1},
  {low:a2Low, high:a2High, mean:meanA2, ci:ciA2}
];

plots.forEach((p, i) => {
  const [x0, x1, y0, y1] = p.box;
  const x = d3.scaleLinear().domain(p.xs[0]).range(p.xs[1]);
  const y = d3.scaleLinear().domain(p.ys[0]).range(p.ys[1]);
  const g = svg.append("g");
  const clipId = "clip" + i;
  svg.append("clipPath").attr("id", clipId).append("rect")
    .attr("x", x0).attr("y", y0).attr("width", x1 - x0).attr("height", y1 - y0);
  const inner = g.append("g").attr("clip-path", `url(#${clipId})`);

  if (p.type === "cat") {
    const cd = catData[i];
    const groups = [cd.low, cd.high];
    groups.forEach((pts, k) => {
      inner.selectAll(null).data(pts).enter().append("circle")
        .attr("cx", d => x(k + 1 + d[0])).attr("cy", d => y(d[1])).attr("r", 0.9)
        .attr("fill", PT).attr("opacity", 0.75);
    });
    groups.forEach((pts, k) => {
      const xa = x(k + 1 + lineFrom[k]), xb = x(k + 1 + lineTo[k]);
      inner.append("rect").attr("x", xa).attr("width", xb - xa)
        .attr("y", y(cd.mean[k] + cd.ci[k])).attr("height", y(cd.mean[k] - cd.ci[k]) - y(cd.mean[k] + cd.ci[k]))
        .attr("fill", "#9fb6c9").attr("opacity", 0.55);
      inner.append("line").attr("x1", xa).attr("x2", xb)
        .attr("y1", y(cd.mean[k])).attr("y2", y(cd.mean[k]))
        .attr("stroke", BLUE).attr("stroke-width", 2.6);
    });
    const ax = d3.axisBottom(x).tickValues([1, 2]).tickFormat(d => categories[d - 1]).tickSize(5).tickPadding(3);
    const axg = g.append("g").attr("transform", `translate(0,${y1})`).call(ax);
    styleAxis(axg);
  } else {
    inner.selectAll(null).data(p.pts).enter().append("circle")
      .attr("cx", d => x(d[0])).attr("cy", d => y(d[1])).attr("r", 0.9)
      .attr("fill", PT).attr("opacity", 0.75);
    const [bx, fit, lo, hi] = p.band;
    const idx = d3.range(bx.length);
    const area = d3.area().x(j => x(bx[j])).y0(j => y(lo[j])).y1(j => y(hi[j])).curve(d3.curveMonotoneX);
    inner.append("path").datum(idx).attr("d", area).attr("fill", "#b5b5b5").attr("opacity", 0.6);
    const line = d3.line().x(j => x(bx[j])).y(j => y(fit[j]));
    inner.append("path").datum(idx).attr("d", line).attr("fill", "none")
      .attr("stroke", BLUE).attr("stroke-width", 2);
    const ax = d3.axisBottom(x).tickValues(p.xt).tickFormat(d => String(d)).tickSize(5).tickPadding(3);
    const axg = g.append("g").attr("transform", `translate(0,${y1})`).call(ax);
    styleAxis(axg);
  }
  const ay = d3.axisLeft(y).tickValues(p.yt).tickFormat(d3.format(".1f")).tickSize(5).tickPadding(2.5);
  const ayg = g.append("g").attr("transform", `translate(${x0},0)`).call(ay);
  styleAxis(ayg);

  g.append("rect").attr("x", x0).attr("y", y0).attr("width", x1 - x0).attr("height", y1 - y0)
    .attr("fill", "none").attr("stroke", "#555").attr("stroke-width", 1.1);

  g.append("text").attr("x", p.t[0]).attr("y", p.t[2]).text(coefLabels[i])
    .attr("font-family", "'Liberation Sans', Arial, sans-serif").attr("font-weight", "bold").attr("font-size", 10.8).attr("fill", "#111");
  g.append("text").attr("x", p.t[1]).attr("y", p.t[2]).text(pvalLabels[i])
    .attr("font-family", "'Liberation Sans', Arial, sans-serif").attr("font-weight", "bold").attr("font-size", 10.8).attr("fill", "#111");

  g.append("text").attr("transform", `translate(${p.yl},${(y0 + y1) / 2}) rotate(-90)`)
    .attr("text-anchor", "middle").attr("dominant-baseline", "central")
    .text(yLabels[i]).attr("font-family", tickFont).attr("font-size", 12.5).attr("fill", TXT);
  g.append("text").attr("x", p.xl[0]).attr("y", p.xl[1]).attr("text-anchor", "middle")
    .text(xLabels[i]).attr("font-family", tickFont).attr("font-size", 13).attr("fill", TXT);
});

function styleAxis(sel) {
  sel.select(".domain").remove();
  sel.selectAll(".tick line").attr("stroke", AXC);
  sel.selectAll(".tick text").attr("font-family", tickFont).attr("font-size", 12.5).attr("fill", TXT);
}
</script>
</body></html>
